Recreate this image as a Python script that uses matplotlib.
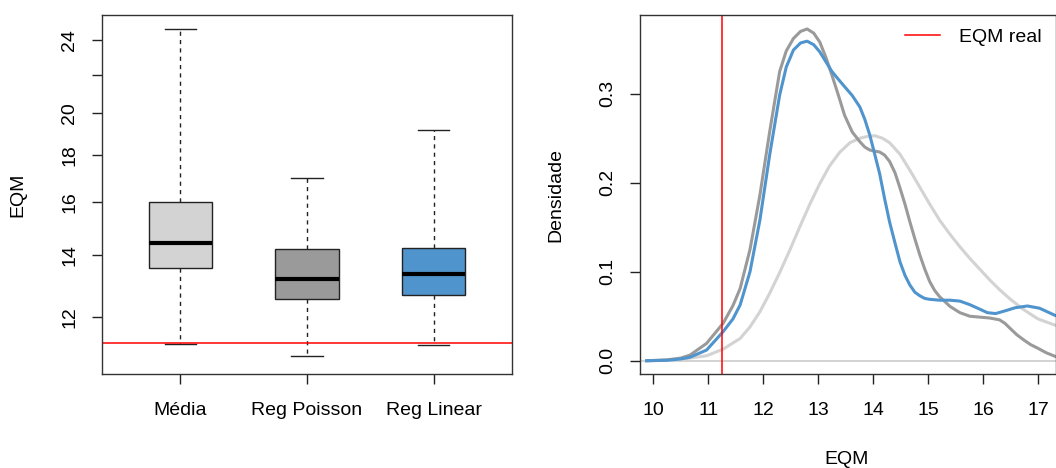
import numpy as np
import matplotlib.pyplot as plt

plt.rcParams['font.family'] = ['Liberation Sans', 'DejaVu Sans']
plt.rcParams['font.size'] = 14

# resumo dos boxplots (EQM por metodo)
metodos = ["Média", "Reg Poisson", "Reg Linear"]
cores = ["#D3D3D3", "#9A9A9A", "#4F94CD"]
wlo = [11.21, 10.89, 11.17]
q1 = [13.56, 12.56, 12.66]
med = [14.45, 13.20, 13.36]
q3 = [16.00, 14.21, 14.25]
whi = [24.65, 17.00, 19.15]
eqm_real = 11.25

# densidades estimadas
x_media = [9.88, 10.25, 10.5, 10.67, 10.97, 11.27, 11.58, 11.76, 11.94, 12.12, 12.30,
           12.49, 12.67, 12.85, 13.03, 13.21, 13.39, 13.58, 13.76, 13.90, 14.03,
           14.17, 14.30, 14.49, 14.67, 14.85, 15.03, 15.21, 15.40, 15.58, 15.76,
           15.94, 16.12, 16.30, 16.50, 16.75, 17.0, 17.31]
d_media = [0.000, 0.0005, 0.0015, 0.003, 0.0056, 0.013, 0.025, 0.038, 0.055, 0.076, 0.099,
           0.125, 0.151, 0.176, 0.199, 0.219, 0.234, 0.245, 0.250, 0.252, 0.2528,
           0.250, 0.245, 0.232, 0.214, 0.195, 0.176, 0.158, 0.142, 0.128, 0.115,
           0.103, 0.091, 0.080, 0.069, 0.057, 0.047, 0.040]

x_poisson = [9.88, 10.25, 10.5, 10.67, 10.97, 11.27, 11.45, 11.58, 11.76, 11.94,
             12.12, 12.30, 12.42, 12.55, 12.68, 12.80, 12.92, 13.03, 13.14,
             13.25, 13.37, 13.48, 13.62, 13.76, 13.85, 13.94, 14.03, 14.12, 14.21,
             14.30, 14.40, 14.49, 14.58, 14.67, 14.76, 14.85, 14.94, 15.03, 15.12,
             15.21, 15.40, 15.58, 15.76, 15.94, 16.12, 16.30, 16.40, 16.50, 16.62,
             16.75, 16.87, 17.0, 17.15, 17.31]
d_poisson = [0.000, 0.001, 0.003, 0.0064, 0.0195, 0.042, 0.062, 0.081, 0.125, 0.186,
             0.258, 0.325, 0.348, 0.362, 0.370, 0.3727, 0.368, 0.358, 0.341,
             0.321, 0.298, 0.276, 0.257, 0.246, 0.240, 0.2367, 0.2355, 0.2345, 0.231,
             0.224, 0.211, 0.194, 0.176, 0.156, 0.137, 0.119, 0.103, 0.089, 0.079,
             0.072, 0.061, 0.054, 0.050, 0.049, 0.048, 0.046, 0.042, 0.036, 0.029,
             0.023, 0.018, 0.014, 0.009, 0.005]

x_linear = [9.88, 10.25, 10.5, 10.67, 10.97, 11.27, 11.45, 11.58, 11.76, 11.94,
            12.12, 12.30, 12.42, 12.55, 12.68, 12.80, 12.92, 13.03, 13.14,
            13.25, 13.37, 13.48, 13.62, 13.76, 13.85, 13.94, 14.03, 14.12,
            14.21, 14.30, 14.40, 14.49, 14.58, 14.67, 14.76, 14.85, 14.94, 15.03,
            15.21, 15.40, 15.58, 15.76, 15.94, 16.08, 16.23, 16.40, 16.59,
            16.81, 17.03, 17.31]
d_linear = [0.000, 0.0005, 0.002, 0.004, 0.012, 0.0326, 0.047, 0.0626, 0.100, 0.158,
            0.232, 0.2985, 0.330, 0.349, 0.357, 0.359, 0.355, 0.347, 0.336,
            0.325, 0.316, 0.308, 0.298, 0.285, 0.271, 0.2536, 0.232, 0.210,
            0.182, 0.156, 0.132, 0.111, 0.096, 0.085, 0.077, 0.073, 0.070, 0.069,
            0.068, 0.068, 0.067, 0.063, 0.058, 0.054, 0.053, 0.056, 0.0596,
            0.0615, 0.059, 0.051]

fig = plt.figure(figsize=(10.56, 4.68), dpi=100)
ax1 = fig.add_axes([102 / 1056, 1 - 374 / 468, 410 / 1056, 359 / 468])
ax2 = fig.add_axes([640 / 1056, 1 - 374 / 468, 415.5 / 1056, 359 / 468])

tick_kw = dict(direction='out', length=7, width=1, colors='#222222', labelcolor='black')

# boxplot
stats = []
for i in range(len(metodos)):
    stats.append(dict(label=metodos[i], whislo=wlo[i], q1=q1[i], med=med[i],
                      q3=q3[i], whishi=whi[i], fliers=[]))
bp = ax1.bxp(stats, positions=[1, 2, 3], widths=0.5, capwidths=0.25,
             patch_artist=True, showfliers=False,
             boxprops=dict(linewidth=1.0, edgecolor='#222222'),
             medianprops=dict(color='black', linewidth=3.0, solid_capstyle='butt'),
             whiskerprops=dict(linewidth=1.0, color='#222222', linestyle=(0, (3, 3))),
             capprops=dict(linewidth=1.0, color='#222222'))
for patch, c in zip(bp['boxes'], cores):
    patch.set_facecolor(c)
ax1.axhline(eqm_real, color='red', lw=1.1)
ax1.set_yscale('log')
ax1.set_ylim(10.40, 25.55)
ax1.set_xlim(0.38, 3.62)
ax1.set_yticks([12, 14, 16, 18, 20, 22, 24])
ax1.set_yticklabels(['12', '14', '16', '18', '20', '', '24'], rotation=90, va='center')
ax1.yaxis.set_minor_locator(plt.NullLocator())
ax1.tick_params(axis='y', pad=10, **tick_kw)
ax1.tick_params(axis='x', pad=13, **tick_kw)
fig.text(18 / 1056, 1 - 195 / 468, 'EQM', rotation=90, ha='center', va='center')

# densidades
ax2.axhline(0, color='#CCCCCC', lw=1.2)
ax2.plot(x_media, d_media, color=cores[0], lw=2.2)
ax2.plot(x_poisson, d_poisson, color=cores[1], lw=2.2)
ax2.plot(x_linear, d_linear, color=cores[2], lw=2.2)
ax2.axvline(eqm_real, color='red', lw=1.1, label='EQM real')
ax2.set_xlim(9.758, 17.32)
ax2.set_ylim(-0.0149, 0.3884)
ax2.set_xticks(np.arange(10, 18))
ax2.set_yticks([0.0, 0.1, 0.2, 0.3])
ax2.set_yticklabels(['0.0', '0.1', '0.2', '0.3'], rotation=90, va='center')
ax2.tick_params(axis='y', pad=10, **tick_kw)
ax2.tick_params(axis='x', pad=13, **tick_kw)
ax2.legend(loc='upper right', frameon=False, handlelength=1.8, handletextpad=1.0,
           bbox_to_anchor=(1.0, 1.0), borderaxespad=0.3)
fig.text(556 / 1056, 1 - 195 / 468, 'Densidade', rotation=90, ha='center', va='center')
fig.text(847 / 1056, 1 - 459 / 468, 'EQM', ha='center', va='center')

for ax in (ax1, ax2):
    for s in ax.spines.values():
        s.set_color('#333333')
        s.set_linewidth(1.0)

fig.savefig('out.png', dpi=100)
